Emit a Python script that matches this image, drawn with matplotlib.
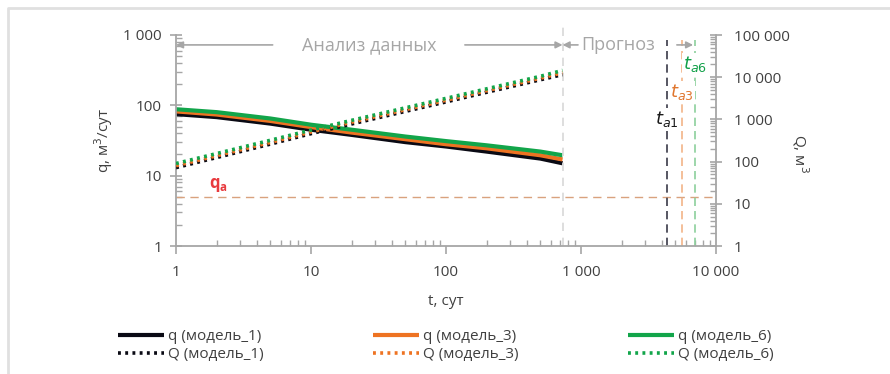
import numpy as np
import matplotlib.pyplot as plt
from matplotlib.ticker import FuncFormatter, LogLocator, NullFormatter
from matplotlib.lines import Line2D

plt.rcParams['font.family'] = ['Open Sans', 'DejaVu Sans']

# data
t = [1, 2, 5, 10, 20, 50, 100, 200, 500, 730]
q1 = [75, 68, 55, 45, 38, 30, 26, 22, 17.5, 15]
q3 = [82, 74, 60, 49, 41, 33, 28, 24.5, 19.5, 17]
q6 = [88, 80, 65, 53, 45, 36, 31, 27, 22, 19.5]
Q1 = [72, 125, 260, 460, 780, 1550, 2600, 4400, 8700, 11500]
Q3 = [80, 138, 285, 505, 860, 1700, 2850, 4800, 9500, 12800]
Q6 = [90, 155, 320, 560, 950, 1880, 3150, 5300, 10500, 14500]
t_hist_end = 730
q_a = 5
t_a = [4330, 5600, 6980]
t_a_names = ['a1', 'a3', 'a6']

black = '#0a0a14'
orange = '#ee7322'
green = '#12a54a'
vcolors = ['#3a3a48', '#f2b488', '#8cd09c']
tcolors = ['#1a1a1a', '#e0762e', '#10a048']
grey = '#a6a6a6'
txt = '#404040'

fig = plt.figure(figsize=(8.9, 3.74), dpi=100)
# frame of the page (only top and left edges are visible)
fig.add_artist(Line2D([8/890, 8/890, 1], [0, 1 - 8/374, 1 - 8/374], transform=fig.transFigure,
                      color='#e0e0e0', lw=2))
ax = fig.add_axes([176/890, 1 - 246/374, 540/890, 211/374])
ax2 = ax.twinx()

ax.set_xscale('log')
ax.set_yscale('log')
ax2.set_yscale('log')
ax.set_xlim(1, 10000)
ax.set_ylim(1, 1000)
ax2.set_ylim(1, 100000)

def fmt(v, pos):
    return f'{int(round(v)):,}'.replace(',', ' ')

for a in (ax, ax2):
    for s in a.spines.values():
        s.set_color(grey)
        s.set_linewidth(1.3)
    a.spines['top'].set_visible(False)
ax.spines['right'].set_visible(False)
ax2.spines['left'].set_visible(False)
ax2.spines['bottom'].set_visible(False)

ax.xaxis.set_major_formatter(FuncFormatter(fmt))
ax.yaxis.set_major_formatter(FuncFormatter(fmt))
ax2.yaxis.set_major_formatter(FuncFormatter(fmt))
for axis in (ax.xaxis, ax.yaxis, ax2.yaxis):
    axis.set_major_locator(LogLocator(base=10, numticks=10))
    axis.set_minor_locator(LogLocator(base=10, subs=np.arange(2, 10), numticks=10))
    axis.set_minor_formatter(NullFormatter())

ax.tick_params(axis='x', which='major', direction='out', length=6, color=grey, width=1.2,
               labelsize=11, labelcolor=txt, pad=8)
ax.tick_params(axis='x', which='minor', direction='in', length=4, color=grey, width=1)
ax.tick_params(axis='y', which='major', direction='inout', length=8, color=grey, width=1.2,
               labelsize=11, labelcolor=txt, pad=6)
ax.tick_params(axis='y', which='minor', direction='in', length=4, color=grey, width=1)
ax2.tick_params(axis='y', which='major', direction='inout', length=8, color=grey, width=1.2,
                labelsize=11, labelcolor=txt, pad=9)
ax2.tick_params(axis='y', which='minor', direction='in', length=4, color=grey, width=1)

ax.set_xlabel('t, сут', fontsize=11, color=txt, labelpad=10)
ax.set_ylabel('q, м$^3$/сут', fontsize=11, color=txt, labelpad=6)
ax2.set_ylabel('Q, м$^3$', fontsize=11, color=txt, rotation=-90, va='center')
ax2.yaxis.set_label_coords((800 - 176) / 540, (246 - 153) / 211)

# lines
dots = (0, (0.8, 1.2))
h1, = ax.plot(t, q1, color=black, lw=3, solid_capstyle='butt', label='q (модель_1)')
h3, = ax.plot(t, q3, color=orange, lw=3, solid_capstyle='butt', label='q (модель_3)')
h6, = ax.plot(t, q6, color=green, lw=3, solid_capstyle='butt', label='q (модель_6)')
H1, = ax2.plot(t, Q1, color=black, lw=2.6, ls=dots, label='Q (модель_1)')
H3, = ax2.plot(t, Q3, color=orange, lw=2.6, ls=dots, label='Q (модель_3)')
H6, = ax2.plot(t, Q6, color=green, lw=2.6, ls=dots, label='Q (модель_6)')

# reference lines
ax.axvline(t_hist_end, ymin=0, ymax=1.05, color='#d8d8d8', lw=1.2, ls=(0, (5, 4)), clip_on=False)
ax.axhline(q_a, color='#d9a27e', lw=1, ls=(0, (6, 4)))
ax.text(1.75, 5.5, 'q$_\\mathregular{a}$', color='#e83a3e', fontsize=12, fontweight='bold',
        va='bottom', ha='left')

lab_y = [64, 155, 388]
for ta, nm, vc, tc, ly in zip(t_a, t_a_names, vcolors, tcolors, lab_y):
    ax.vlines(ta, 1, 850, color=vc, lw=1.2, linestyles=(0, (5, 3)))
    ax.text(ta, ly, '$t_{%s}$' % nm, color=tc, fontsize=13, ha='center', va='center',
            bbox=dict(facecolor='white', edgecolor='none', pad=0.5))

# section annotations
ya = 723
ap = dict(arrowstyle='-|>', color=grey, lw=1.2, mutation_scale=10, shrinkA=0, shrinkB=0)
ax.annotate('', xy=(1, ya), xytext=(5.2, ya), arrowprops=ap, annotation_clip=False)
ax.annotate('', xy=(t_hist_end, ya), xytext=(138, ya), arrowprops=ap, annotation_clip=False)
ax.text(27, ya, 'Анализ данных', color=grey, fontsize=13, ha='center', va='center')
ax.annotate('', xy=(t_hist_end, ya), xytext=(950, ya), arrowprops=ap, annotation_clip=False)
ax.annotate('', xy=(6770, ya), xytext=(5130, ya), arrowprops=ap, annotation_clip=False)
ax.text(1880, ya, 'Прогноз', color=grey, fontsize=13, ha='center', va='center')

fig.legend(handles=[h1, H1, h3, H3, h6, H6], ncol=3, loc='upper left',
           bbox_to_anchor=(118/890, 1 - 329/374), frameon=False, fontsize=11,
           handlelength=3.0, handletextpad=0.25, columnspacing=7.2, labelspacing=0.2,
           labelcolor=txt, borderaxespad=0, borderpad=0)

fig.savefig('out.png', dpi=100)
